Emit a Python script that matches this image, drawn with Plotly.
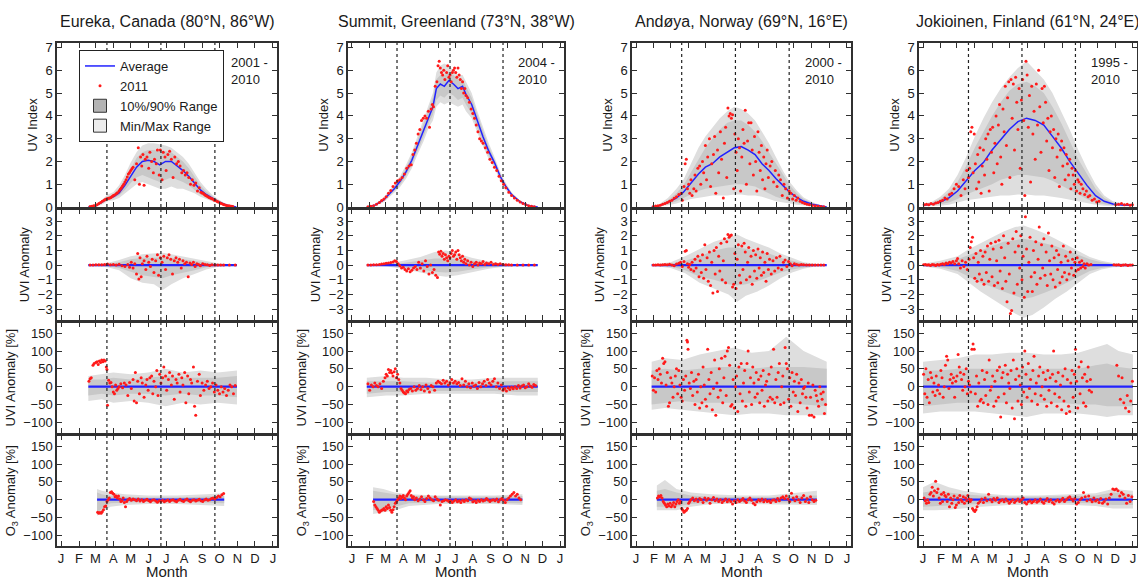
import plotly.graph_objects as go
from plotly.subplots import make_subplots

stations = ["Eureka, Canada (80°N, 86°W)", "Summit, Greenland (73°N, 38°W)",
            "Andøya, Norway (69°N, 16°E)", "Jokioinen, Finland (61°N, 24°E)"]
periods = ["2001 -<br>2010", "2004 -<br>2010", "2000 -<br>2010", "1995 -<br>2010"]
month_days = [0, 31, 59, 90, 120, 151, 181, 212, 243, 273, 304, 334, 365]
month_labels = ["J", "F", "M", "A", "M", "J", "J", "A", "S", "O", "N", "D", "J"]
equinox_days = [79, 172, 265]

# ---- Eureka ----
# UV index climatology: (day, average, 10%, 90%, min, max)
eur_uv = [(47, 0, 0, 0, 0, 0), (60, 0.05, 0.03, 0.08, 0.02, 0.1), (70, 0.2, 0.15, 0.25, 0.1, 0.3),
          (80, 0.38, 0.3, 0.45, 0.25, 0.55), (90, 0.45, 0.38, 0.55, 0.3, 0.65), (100, 0.62, 0.5, 0.8, 0.4, 0.95),
          (110, 0.95, 0.75, 1.2, 0.6, 1.4), (120, 1.35, 1.05, 1.7, 0.8, 1.95), (130, 1.75, 1.3, 2.15, 1.0, 2.4),
          (140, 2.0, 1.4, 2.4, 1.1, 2.7), (150, 2.05, 1.3, 2.5, 1.0, 2.8), (160, 2.0, 1.2, 2.5, 0.9, 2.8),
          (170, 1.85, 1.1, 2.45, 0.8, 2.75), (180, 2.0, 1.2, 2.45, 0.8, 2.7), (190, 2.0, 1.3, 2.4, 0.9, 2.6),
          (200, 1.8, 1.2, 2.2, 0.8, 2.4), (210, 1.6, 1.1, 2.0, 0.8, 2.2), (220, 1.35, 0.95, 1.7, 0.7, 1.9),
          (230, 1.05, 0.75, 1.35, 0.6, 1.5), (240, 0.75, 0.55, 0.95, 0.45, 1.1), (250, 0.55, 0.42, 0.68, 0.35, 0.8),
          (260, 0.38, 0.3, 0.47, 0.25, 0.55), (270, 0.25, 0.2, 0.3, 0.15, 0.35), (280, 0.13, 0.1, 0.16, 0.07, 0.2),
          (290, 0.05, 0.03, 0.07, 0.02, 0.09), (302, 0, 0, 0, 0, 0)]
# 2011 daily values: (day, value)
eur_uv11 = [(50, 0.02), (53, 0.03), (56, 0.05), (59, 0.07), (62, 0.1), (65, 0.15), (68, 0.2), (71, 0.25), (74, 0.3),
            (76, 0.33), (78, 0.35), (80, 0.37), (82, 0.38), (84, 0.4), (86, 0.42), (88, 0.46), (90, 0.5),
            (92, 0.53), (95, 0.58), (97, 0.63), (100, 0.7), (102, 0.78), (104, 0.85), (106, 0.92), (108, 1.0),
            (110, 1.1), (112, 1.2), (114, 1.32), (116, 1.45), (118, 1.52), (120, 1.6), (122, 1.68), (124, 1.75),
            (127, 1.2), (130, 1.9), (133, 2.6), (135, 1.0), (137, 2.2), (139, 1.8), (141, 2.3), (143, 0.95),
            (145, 2.1), (148, 2.2), (151, 1.7), (153, 2.4), (156, 2.0), (159, 1.5), (161, 2.1), (164, 1.9),
            (166, 2.5), (169, 1.4), (171, 2.5), (174, 1.2), (176, 2.4), (179, 2.2), (181, 1.6), (184, 2.3),
            (187, 2.45), (190, 2.1), (193, 1.3), (196, 2.2), (199, 1.9), (202, 2.0), (205, 1.8), (208, 1.5),
            (211, 1.6), (214, 1.4), (217, 1.5), (220, 1.3), (223, 1.0), (226, 1.2), (229, 0.95), (232, 1.05),
            (235, 0.7), (238, 0.85), (241, 0.65), (243, 0.62), (245, 0.6), (247, 0.55), (249, 0.5), (251, 0.48),
            (253, 0.45), (255, 0.42), (257, 0.4), (259, 0.37), (261, 0.35), (264, 0.3), (266, 0.28), (269, 0.24),
            (271, 0.22), (274, 0.18), (276, 0.15), (279, 0.12), (281, 0.1), (284, 0.08), (286, 0.06), (289, 0.05),
            (291, 0.04), (294, 0.03), (296, 0.02)]
# anomaly bands: (day, 10%, 90%, min, max)
eur_anom = [(47, -0.02, 0.02, -0.04, 0.04), (80, -0.08, 0.08, -0.15, 0.15), (100, -0.2, 0.2, -0.35, 0.35),
            (120, -0.45, 0.4, -0.9, 0.6), (140, -0.7, 0.5, -1.2, 0.75), (160, -0.8, 0.5, -1.3, 0.8),
            (175, -0.9, 0.55, -1.7, 0.85), (190, -0.7, 0.5, -1.3, 0.75), (210, -0.5, 0.4, -0.9, 0.6),
            (230, -0.35, 0.3, -0.6, 0.45), (250, -0.15, 0.15, -0.3, 0.25), (270, -0.06, 0.06, -0.12, 0.12),
            (303, -0.01, 0.01, -0.02, 0.02)]
eur_anom11 = [(50, 0.0), (55, 0.01), (60, 0.02), (65, 0.03), (70, 0.02), (75, 0.05), (80, 0.08), (85, 0.03),
              (90, 0.05), (95, 0.0), (100, 0.06), (105, -0.05), (110, -0.1), (115, 0.05), (118, -0.15), (121, 0.2),
              (124, -0.2), (127, 0.1), (130, -0.6), (132, 0.8), (134, -0.95), (136, 0.5), (138, -0.8), (140, 0.1),
              (143, 0.3), (146, -0.3), (148, 0.6), (151, 0.2), (154, -0.1), (157, 0.4), (160, -0.5), (163, 0.3),
              (166, 0.7), (168, -0.7), (171, 0.5), (174, 0.2), (177, 0.6), (180, -0.3), (183, 0.5), (186, 0.7),
              (189, 0.4), (192, -0.6), (195, 0.3), (198, 0.5), (201, 0.2), (204, 0.4), (207, -0.2), (210, 0.3),
              (213, 0.1), (216, 0.2), (219, -0.8), (222, 0.15), (225, 0.05), (228, 0.2), (231, -0.1), (234, 0.1),
              (237, 0.05), (240, -0.05), (244, 0.1), (248, 0.05), (252, 0.02), (256, -0.02), (260, 0.03),
              (265, 0.01), (270, 0.0), (275, 0.01), (280, 0.0), (290, 0.0), (300, 0.0)]
eur_pct = [(47, -25, 20, -40, 30), (70, -20, 20, -35, 35), (90, -25, 25, -45, 40), (120, -20, 20, -40, 35),
           (150, -20, 25, -45, 40), (180, -25, 30, -55, 50), (210, -20, 25, -45, 40), (240, -25, 25, -50, 45),
           (270, -25, 25, -45, 40), (303, -30, 30, -50, 45)]
eur_pct11 = [(48, 15), (50, 22), (52, 25), (55, 60), (57, 65), (60, 68), (62, 70), (64, 62), (66, 72), (68, 68),
             (70, 75), (72, 70), (74, 75), (76, 72), (78, 55), (79, 48), (80, -52), (82, 18), (84, 10), (86, 12),
             (88, 0), (90, -15), (92, -20), (94, 5), (96, -10), (98, -5), (100, 0), (103, 8), (106, -3), (109, 10),
             (112, 5), (115, -25), (118, 12), (121, -5), (124, 20), (126, -40), (128, 40), (130, -45), (132, 15),
             (135, -20), (138, 25), (140, 10), (143, -30), (146, 5), (148, 20), (150, -10), (153, 25), (156, 30),
             (158, -20), (160, 15), (163, 0), (165, 45), (167, -25), (170, 35), (172, 10), (175, 25), (177, 55),
             (180, 30), (182, -10), (185, 20), (187, 40), (190, 5), (192, 30), (195, -35), (198, 20), (200, 10),
             (203, 35), (205, -15), (208, 25), (210, 5), (213, 40), (215, -45), (218, 30), (220, -20), (223, 20),
             (225, 10), (228, 55), (230, -55), (232, -80), (235, 15), (238, 35), (240, -25), (243, 10), (246, -10),
             (249, 5), (252, 15), (255, -5), (258, 0), (261, 10), (264, -15), (267, 5), (270, -10), (273, -20),
             (276, 0), (279, -15), (282, -5), (285, -25), (288, -10), (291, 5), (294, 0), (297, -20), (300, 3)]
eur_o3 = [(62, -40, 20, -45, 30), (70, -25, 15, -35, 25), (85, -10, 10, -20, 20), (110, -8, 8, -15, 15),
          (150, -6, 6, -12, 12), (200, -6, 6, -12, 12), (250, -8, 8, -15, 15), (281, -10, 10, -18, 18)]
eur_o311 = [(63, -35), (65, -38), (67, -36), (69, -38), (71, -34), (73, -28), (75, -20), (77, -18), (79, -5),
            (81, 0), (83, 5), (85, 20), (87, 22), (89, 18), (91, 15), (93, 8), (95, 10), (97, 5), (99, 10),
            (101, 2), (103, -5), (105, -3), (107, 5), (109, -8), (111, -20), (113, -5), (115, 0), (118, 3),
            (121, -2), (124, 2), (127, 0), (130, -3), (133, 2), (136, -4), (139, 0), (142, -5), (145, -2),
            (148, 1), (151, -3), (154, -6), (157, -2), (160, 0), (163, -4), (166, -7), (169, -3), (172, -5),
            (175, -2), (178, -6), (181, -3), (184, -1), (187, -5), (190, -2), (193, 0), (196, -4), (199, -6),
            (202, -2), (205, 1), (208, -3), (211, -5), (214, -1), (217, 2), (220, -3), (223, -6), (226, -2),
            (229, 0), (232, -4), (235, -2), (238, 1), (241, -3), (244, -5), (247, -1), (250, 2), (253, -2),
            (256, 0), (259, 3), (262, 5), (265, 2), (268, 6), (271, 10), (274, 8), (277, 14), (280, 17)]

# ---- Summit ----
sum_uv = [(26, 0, 0, 0, 0, 0), (40, 0.08, 0.06, 0.1, 0.04, 0.12), (55, 0.3, 0.25, 0.35, 0.2, 0.4),
          (65, 0.55, 0.48, 0.62, 0.42, 0.7), (75, 0.82, 0.72, 0.92, 0.65, 1.0), (85, 1.15, 1.0, 1.28, 0.9, 1.38),
          (95, 1.55, 1.38, 1.72, 1.25, 1.85), (105, 2.05, 1.85, 2.25, 1.7, 2.4), (115, 2.7, 2.45, 2.95, 2.3, 3.1),
          (125, 3.35, 3.05, 3.6, 2.85, 3.8), (135, 4.0, 3.7, 4.3, 3.5, 4.5), (142, 4.4, 4.05, 4.8, 3.8, 5.0),
          (148, 5.2, 4.7, 5.6, 4.4, 5.9), (155, 5.4, 4.9, 5.8, 4.6, 6.2), (162, 5.3, 4.8, 5.8, 4.5, 6.3),
          (170, 5.55, 5.0, 5.9, 4.6, 6.2), (178, 5.4, 4.9, 5.8, 4.5, 6.0), (186, 5.2, 4.7, 5.6, 4.4, 5.8),
          (194, 5.3, 4.8, 5.6, 4.5, 5.8), (200, 4.95, 4.5, 5.3, 4.2, 5.5), (210, 4.5, 4.1, 4.8, 3.9, 5.0),
          (220, 3.75, 3.45, 4.05, 3.3, 4.2), (230, 3.07, 2.8, 3.3, 2.65, 3.45), (240, 2.45, 2.25, 2.65, 2.1, 2.8),
          (250, 1.95, 1.8, 2.1, 1.7, 2.2), (260, 1.35, 1.25, 1.45, 1.15, 1.55), (270, 0.9, 0.82, 0.98, 0.75, 1.05),
          (280, 0.55, 0.5, 0.6, 0.45, 0.65), (295, 0.23, 0.2, 0.26, 0.18, 0.28), (310, 0.06, 0.05, 0.07, 0.04, 0.08),
          (326, 0, 0, 0, 0, 0)]
sum_uv11 = [(28, 0.01), (33, 0.03), (38, 0.06), (43, 0.12), (48, 0.2), (52, 0.28), (56, 0.35), (60, 0.45),
            (64, 0.6), (68, 0.72), (72, 0.9), (76, 1.05), (80, 1.15), (84, 1.2), (88, 1.3), (92, 1.45), (96, 1.7),
            (100, 1.8), (104, 1.85), (107, 2.3), (110, 2.5), (113, 2.8), (116, 3.2), (119, 3.4), (122, 3.8),
            (125, 3.9), (128, 4.0), (131, 3.9), (134, 4.2), (136, 3.5), (139, 4.3), (141, 4.5), (143, 4.4),
            (146, 5.3), (149, 5.5), (151, 6.2), (153, 6.4), (155, 6.1), (157, 5.9), (159, 5.8), (161, 6.0),
            (163, 5.6), (166, 5.9), (168, 6.2), (170, 5.7), (172, 5.8), (174, 5.5), (176, 5.9), (178, 6.0),
            (180, 6.1), (182, 5.9), (184, 5.7), (186, 6.1), (188, 5.8), (190, 5.6), (192, 5.2), (194, 5.5),
            (196, 5.0), (198, 5.2), (200, 4.9), (203, 4.8), (206, 4.6), (209, 4.3), (212, 4.1), (215, 3.9),
            (218, 3.6), (221, 3.3), (224, 3.0), (227, 2.9), (230, 2.8), (234, 2.6), (238, 2.4), (242, 2.1),
            (246, 1.95), (250, 1.75), (254, 1.6), (258, 1.35), (262, 1.15), (266, 1.0), (270, 0.85), (275, 0.65),
            (280, 0.5), (285, 0.4), (290, 0.3), (295, 0.22), (300, 0.15), (305, 0.1), (310, 0.06), (315, 0.03),
            (320, 0.01)]
sum_anom = [(26, -0.01, 0.01, -0.02, 0.02), (60, -0.05, 0.05, -0.1, 0.1), (90, -0.15, 0.15, -0.25, 0.3),
            (120, -0.3, 0.3, -0.5, 0.55), (145, -0.45, 0.45, -0.7, 0.9), (165, -0.5, 0.45, -0.8, 1.0),
            (185, -0.45, 0.4, -0.7, 0.8), (210, -0.3, 0.3, -0.5, 0.5), (240, -0.15, 0.15, -0.25, 0.25),
            (270, -0.06, 0.06, -0.1, 0.1), (300, -0.02, 0.02, -0.04, 0.04), (326, -0.01, 0.01, -0.01, 0.01)]
sum_anom11 = [(28, 0.0), (33, 0.01), (38, 0.02), (43, 0.03), (48, 0.05), (52, 0.08), (56, 0.1), (60, 0.12),
              (64, 0.15), (68, 0.18), (72, 0.22), (75, 0.3), (78, 0.25), (81, 0.1), (84, -0.05), (87, -0.2),
              (90, -0.15), (93, -0.3), (96, -0.4), (99, -0.25), (102, -0.45), (105, -0.35), (108, -0.2),
              (111, -0.1), (114, -0.3), (117, 0.2), (120, -0.2), (123, 0.1), (126, -0.4), (129, 0.3), (132, -0.1),
              (135, -0.6), (138, 0.0), (141, -0.5), (144, -0.3), (147, -0.7), (150, -0.85), (152, 0.9),
              (154, 0.75), (156, 0.95), (158, 0.6), (160, 0.8), (162, 0.4), (164, 0.7), (166, 0.5), (168, 0.3),
              (170, 0.6), (172, 0.5), (174, 0.8), (176, 1.0), (178, 0.6), (180, 0.7), (182, 0.9), (184, 0.4),
              (186, 1.0), (188, 0.7), (190, 0.5), (192, 0.3), (194, 0.6), (196, 0.2), (198, 0.4), (200, 0.1),
              (203, 0.3), (206, 0.0), (209, 0.2), (212, -0.1), (215, 0.1), (218, 0.2), (221, 0.0), (224, 0.15),
              (227, 0.1), (230, 0.25), (233, 0.05), (236, 0.15), (240, 0.1), (244, 0.2), (248, 0.05), (252, 0.1),
              (256, 0.05), (260, 0.1), (265, 0.05), (270, 0.03), (275, 0.02), (280, 0.0), (290, 0.0), (300, 0.0),
              (310, 0.0), (320, 0.0)]
sum_pct = [(26, -20, 15, -30, 25), (60, -15, 15, -25, 30), (90, -15, 15, -25, 25), (130, -12, 12, -20, 25),
           (170, -12, 12, -20, 20), (210, -12, 12, -20, 20), (250, -12, 15, -20, 25), (290, -15, 15, -25, 25),
           (326, -15, 15, -25, 25)]
sum_pct11 = [(28, 8), (31, -10), (34, 5), (37, 0), (40, 10), (43, 3), (46, 0), (49, 8), (52, -5), (55, 15), (58, 25),
             (60, 35), (62, 30), (64, 48), (66, 40), (68, 45), (70, 38), (72, 30), (74, 42), (76, 50), (78, 25),
             (80, 35), (82, 20), (84, 10), (86, -5), (88, -10), (90, -15), (92, -18), (94, -20), (96, -12),
             (98, -15), (100, -8), (103, -5), (106, -12), (109, 0), (112, -10), (115, -5), (118, 3), (121, -8),
             (124, 0), (127, -12), (130, 5), (133, -5), (136, -15), (139, 3), (142, 0), (145, -10), (148, 10),
             (151, 15), (154, 12), (157, 8), (160, 18), (163, 10), (166, 15), (169, 5), (172, 12), (175, 20),
             (178, 10), (181, 15), (184, 8), (187, 12), (190, 3), (193, 22), (196, 5), (199, 15), (202, 0), (205, 8),
             (208, -3), (211, 10), (214, 2), (217, 5), (220, -5), (223, 12), (226, 0), (229, 8), (232, 15), (235, 3),
             (238, 20), (241, 10), (244, 5), (247, 15), (250, 22), (253, 0), (256, 10), (259, -5), (262, 5),
             (265, -10), (268, -5), (271, -12), (274, -3), (277, -8), (280, -2), (283, -6), (286, 0), (289, -5),
             (292, 3), (295, -4), (298, 2), (301, 5), (304, -3), (307, 0), (310, 8), (313, 2), (316, -2), (319, 6),
             (322, 3)]
sum_o3 = [(37, -30, 25, -40, 35), (55, -25, 20, -35, 30), (75, -20, 15, -30, 20), (100, -10, 10, -18, 15),
          (150, -8, 8, -12, 12), (200, -8, 8, -12, 12), (250, -8, 8, -12, 12), (299, -10, 10, -15, 15)]
sum_o311 = [(38, -5), (40, -15), (42, -20), (44, -25), (46, -30), (48, -35), (50, -32), (52, -30), (54, -28),
            (56, -25), (58, -30), (60, -20), (62, -25), (64, -15), (66, -22), (68, -30), (70, -35), (72, -28),
            (74, -20), (76, -10), (78, -5), (80, 0), (82, 5), (84, 10), (86, 3), (88, 8), (90, 12), (92, 5), (94, 0),
            (96, 10), (98, 15), (100, 20), (102, 25), (104, 12), (106, 5), (108, 8), (110, 0), (113, 5), (116, -3),
            (119, 2), (122, 8), (125, 0), (128, -5), (131, 3), (134, 10), (137, 5), (140, 0), (143, -3), (146, 8),
            (149, 2), (152, -2), (155, -15), (158, -5), (161, -3), (164, 0), (167, -2), (170, -5), (173, -3),
            (176, -8), (179, -4), (182, 0), (185, -6), (188, -3), (191, -8), (194, -2), (197, -5), (200, 0),
            (203, -3), (206, 5), (209, 2), (212, -6), (215, -3), (218, -8), (221, -2), (224, -5), (227, 0),
            (230, -4), (233, -2), (236, 3), (239, -1), (242, -5), (245, -2), (248, 0), (251, -3), (254, 2),
            (257, -6), (260, 0), (263, 3), (266, -2), (269, -8), (272, 0), (275, 5), (278, 10), (281, 15),
            (284, 20), (287, 10), (290, 15), (293, 5), (296, 0)]

# ---- Andøya ----
and_uv = [(27, 0, 0, 0, 0, 0), (40, 0.05, 0.03, 0.08, 0.02, 0.12), (55, 0.2, 0.12, 0.3, 0.08, 0.4),
          (70, 0.4, 0.25, 0.6, 0.15, 0.8), (82, 0.65, 0.4, 0.95, 0.25, 1.2), (95, 1.05, 0.55, 1.5, 0.35, 1.9),
          (108, 1.45, 0.7, 2.1, 0.4, 2.6), (120, 1.75, 0.8, 2.6, 0.45, 3.1), (132, 1.9, 0.85, 3.0, 0.5, 3.5),
          (145, 2.2, 0.9, 3.4, 0.5, 3.9), (158, 2.4, 0.95, 3.7, 0.5, 4.2), (170, 2.6, 1.0, 3.8, 0.55, 4.4),
          (182, 2.65, 1.0, 3.8, 0.55, 4.3), (194, 2.5, 0.95, 3.6, 0.5, 4.1), (206, 2.3, 0.9, 3.3, 0.5, 3.8),
          (218, 1.9, 0.75, 2.9, 0.45, 3.3), (230, 1.6, 0.6, 2.4, 0.35, 2.8), (242, 1.25, 0.45, 1.9, 0.25, 2.2),
          (254, 0.95, 0.35, 1.4, 0.2, 1.6), (266, 0.65, 0.25, 0.95, 0.15, 1.1), (278, 0.42, 0.18, 0.6, 0.1, 0.72),
          (290, 0.25, 0.1, 0.35, 0.06, 0.42), (305, 0.12, 0.05, 0.17, 0.03, 0.22), (318, 0.05, 0.02, 0.07, 0.01, 0.09),
          (330, 0, 0, 0, 0, 0)]
and_uv11 = [(30, 0.02), (34, 0.04), (38, 0.06), (42, 0.08), (46, 0.12), (50, 0.15), (54, 0.2), (58, 0.25), (62, 0.3),
            (66, 0.38), (70, 0.45), (74, 0.55), (78, 0.6), (80, 0.3), (83, 0.9), (85, 1.9), (87, 2.1), (89, 0.8),
            (91, 1.0), (93, 0.6), (95, 1.2), (97, 0.5), (100, 0.8), (102, 1.4), (104, 0.7), (107, 1.7), (110, 1.8),
            (112, 1.0), (115, 2.0), (117, 1.5), (120, 2.7), (122, 1.2), (124, 2.2), (127, 3.0), (129, 0.9),
            (131, 1.9), (134, 2.3), (136, 3.1), (138, 0.6), (141, 2.5), (143, 1.5), (146, 3.3), (148, 2.1),
            (151, 0.4), (153, 2.8), (155, 3.5), (157, 1.3), (159, 4.35), (161, 4.0), (163, 4.1), (165, 3.9),
            (167, 4.05), (169, 0.8), (171, 3.2), (173, 2.4), (175, 1.6), (177, 3.0), (179, 2.6), (181, 0.7),
            (183, 2.2), (185, 3.4), (187, 2.8), (189, 4.25), (191, 1.0), (193, 2.9), (195, 3.7), (197, 1.9),
            (199, 3.7), (201, 2.5), (203, 1.4), (205, 3.1), (207, 2.0), (209, 0.7), (211, 3.3), (213, 2.4),
            (215, 1.6), (217, 2.7), (219, 1.2), (221, 2.2), (223, 0.8), (225, 1.9), (227, 2.5), (229, 1.3),
            (232, 1.8), (235, 2.0), (238, 1.1), (241, 1.6), (244, 0.9), (247, 1.4), (250, 1.2), (253, 0.5),
            (256, 1.0), (259, 0.8), (262, 0.4), (265, 0.7), (268, 0.6), (271, 0.35), (274, 0.5), (277, 0.3),
            (280, 0.4), (284, 0.25), (288, 0.2), (292, 0.15), (296, 0.12), (300, 0.1), (305, 0.07), (310, 0.05),
            (315, 0.03), (320, 0.02), (325, 0.01)]
and_anom = [(27, -0.02, 0.02, -0.04, 0.04), (60, -0.1, 0.1, -0.2, 0.2), (85, -0.35, 0.3, -0.55, 0.6),
            (110, -0.8, 0.6, -1.2, 1.1), (135, -1.0, 1.0, -1.6, 1.6), (160, -1.3, 1.2, -2.0, 1.9),
            (175, -1.4, 1.2, -2.5, 2.1), (190, -1.3, 1.1, -2.1, 1.8), (210, -1.1, 1.0, -1.8, 1.5),
            (230, -0.8, 0.8, -1.4, 1.2), (250, -0.5, 0.5, -0.9, 0.8), (270, -0.3, 0.3, -0.5, 0.5),
            (290, -0.15, 0.12, -0.25, 0.2), (310, -0.05, 0.05, -0.1, 0.1), (330, -0.01, 0.01, -0.02, 0.02)]
and_anom11 = [(30, 0.0), (34, 0.01), (38, 0.02), (42, 0.0), (46, 0.03), (50, 0.05), (54, 0.02), (58, 0.06), (62, 0.0),
              (66, -0.05), (70, 0.08), (74, 0.12), (77, 0.2), (80, -0.1), (83, 0.25), (85, 0.95), (87, 1.0),
              (89, 0.1), (91, -0.15), (93, 0.05), (95, -0.3), (97, 0.2), (100, -0.4), (102, 0.4), (104, -0.2),
              (107, 0.6), (109, -0.8), (111, 0.3), (113, -0.5), (115, 0.7), (117, -0.9), (119, 1.4), (121, -0.3),
              (123, 0.5), (125, -1.1), (127, 0.9), (129, -1.4), (131, 0.2), (133, -1.9), (135, 1.0), (137, -0.6),
              (139, 1.2), (141, -1.8), (143, 0.6), (145, -0.4), (147, 1.5), (149, -1.0), (151, 0.3), (153, 1.8),
              (155, -1.2), (157, 1.6), (159, 2.1), (161, 1.9), (163, 2.0), (165, 2.05), (167, -1.5), (169, -1.3),
              (171, 0.8), (173, -1.6), (175, 0.4), (177, 1.4), (179, -0.7), (181, -1.2), (183, 1.3), (185, -0.3),
              (187, 1.5), (189, 0.9), (191, -1.0), (193, 0.2), (195, 1.2), (197, -0.8), (199, 0.6), (201, -1.3),
              (203, 1.0), (205, -0.4), (207, 0.7), (209, -0.9), (211, 1.1), (213, -0.2), (215, 0.5), (217, -0.7),
              (219, 0.9), (221, -0.5), (223, 0.2), (225, -1.1), (227, 0.8), (229, -0.3), (231, 0.4), (234, -0.6),
              (237, 0.3), (240, -0.4), (243, 0.5), (246, -0.2), (249, 0.6), (252, -0.3), (255, 0.2), (258, 0.35),
              (261, -0.1), (264, 0.25), (267, 0.1), (270, -0.05), (274, 0.1), (278, 0.05), (282, 0.0), (286, 0.04),
              (290, 0.02), (295, 0.0), (300, 0.01), (305, 0.0), (310, 0.01), (315, 0.0), (320, 0.0), (325, 0.0)]
and_pct = [(27, -50, 45, -65, 70), (50, -45, 50, -60, 80), (80, -40, 45, -65, 75), (110, -45, 50, -70, 90),
           (140, -45, 55, -75, 100), (170, -45, 55, -80, 110), (200, -45, 50, -75, 95), (230, -45, 55, -75, 100),
           (260, -45, 55, -80, 140), (290, -50, 55, -80, 100), (330, -55, 50, -80, 70)]
and_pct11 = [(28, 30), (30, -10), (32, 25), (34, -15), (36, 45), (38, 20), (40, 50), (42, 35), (44, 10), (46, 80),
             (48, 65), (50, 70), (52, 5), (54, 40), (56, -55), (58, -45), (60, 25), (62, 10), (64, -30), (66, 0),
             (68, 30), (70, 50), (72, -20), (74, 45), (76, 5), (78, -30), (80, -40), (82, 20), (84, -10), (86, 30),
             (88, 130), (89, 125), (90, 105), (92, 10), (94, -5), (96, 40), (98, -25), (100, 15), (102, -50),
             (104, 20), (106, -15), (108, 35), (110, -60), (112, 0), (114, -45), (116, 55), (118, 5), (120, -35),
             (122, -55), (124, 105), (126, 20), (128, -20), (130, 40), (132, -65), (134, -5), (136, 75), (138, -80),
             (140, 10), (142, -30), (144, 50), (146, -10), (148, 80), (150, -45), (152, 25), (154, 85), (156, -25),
             (158, 100), (160, 110), (162, 60), (164, -55), (166, -50), (168, 20), (170, -60), (172, 0), (174, 30),
             (176, -70), (178, 55), (180, -20), (182, 65), (184, -40), (186, 10), (188, 45), (190, -55), (192, 65),
             (194, 100), (196, -15), (198, 25), (200, -50), (202, 55), (204, 10), (206, -30), (208, 40), (210, -20),
             (212, 20), (214, -45), (216, 30), (218, -10), (220, 45), (222, -55), (224, 5), (226, 15), (228, -40),
             (230, 35), (232, -30), (234, 55), (236, -35), (238, 105), (240, -45), (242, 20), (244, -30), (246, 40),
             (248, 65), (250, -50), (252, 0), (254, 30), (256, -45), (258, 110), (260, 65), (262, 50), (264, -35),
             (266, 25), (268, -55), (270, 40), (272, -15), (274, 15), (276, -25), (278, 35), (280, -70), (282, 10),
             (284, -45), (286, 20), (288, -20), (290, -5), (292, 0), (294, -30), (296, -60), (298, 10), (300, -80),
             (302, -30), (304, -80), (306, 5), (308, -85), (310, -10), (312, -25), (314, -40), (316, -55), (318, 0),
             (320, -20), (322, -35), (324, -15), (326, -75), (328, -50)]
and_o3 = [(36, -20, 25, -30, 40), (50, -20, 30, -30, 55), (70, -20, 20, -30, 30), (95, -12, 12, -20, 20),
          (130, -8, 8, -12, 15), (180, -7, 7, -12, 12), (230, -7, 7, -12, 12), (270, -8, 10, -14, 18),
          (313, -10, 12, -15, 25)]
and_o311 = [(37, 5), (39, 10), (41, 8), (43, 12), (45, 5), (47, -5), (49, -10), (51, -15), (53, -20), (55, -12),
            (57, -18), (59, -10), (61, -20), (63, -15), (65, -8), (67, -20), (69, -12), (71, -5), (73, 0), (75, -10),
            (77, -5), (79, -25), (81, -30), (83, -35), (85, -32), (87, -30), (89, -25), (91, -10), (93, -5), (95, 0),
            (98, 5), (101, -3), (104, 2), (107, -5), (110, 3), (113, 0), (116, -8), (119, 5), (122, -2), (125, 3),
            (128, -10), (131, 0), (134, 6), (137, -3), (140, 2), (143, -5), (146, 0), (149, -8), (152, -3), (155, 2),
            (158, -6), (161, 0), (164, -5), (167, -12), (170, -3), (173, -8), (176, 0), (179, -5), (182, -2),
            (185, 3), (188, -4), (191, -8), (194, 0), (197, 5), (200, -2), (203, -10), (206, -14), (209, -6),
            (212, 0), (215, -4), (218, 2), (221, -6), (224, 0), (227, -5), (230, -3), (233, -8), (236, -2), (239, 0),
            (242, -5), (245, 3), (248, -3), (251, 5), (254, 8), (257, 3), (260, 10), (263, 2), (266, -5), (269, 18),
            (272, 5), (275, -3), (278, 8), (281, 0), (284, -8), (287, 5), (290, 12), (293, -5), (296, 3), (299, -8),
            (302, 8), (305, 0), (308, -5), (311, -2)]

# ---- Jokioinen ----
jok_uv = [(0, 0.08, 0.05, 0.12, 0.03, 0.15), (15, 0.12, 0.07, 0.18, 0.04, 0.22), (30, 0.22, 0.12, 0.35, 0.06, 0.45),
          (45, 0.4, 0.2, 0.65, 0.1, 0.8), (60, 0.7, 0.35, 1.1, 0.2, 1.4), (75, 1.15, 0.55, 1.8, 0.3, 2.2),
          (90, 1.6, 0.7, 2.6, 0.35, 3.1), (105, 1.95, 0.85, 3.3, 0.4, 3.9), (120, 2.5, 1.0, 4.0, 0.45, 4.6),
          (135, 2.95, 1.2, 4.6, 0.5, 5.2), (150, 3.4, 1.3, 5.1, 0.5, 5.7), (165, 3.75, 1.4, 5.4, 0.55, 6.1),
          (180, 3.9, 1.4, 5.5, 0.55, 6.4), (195, 3.8, 1.35, 5.3, 0.5, 6.0), (210, 3.6, 1.3, 5.0, 0.5, 5.6),
          (225, 3.1, 1.15, 4.4, 0.45, 5.0), (240, 2.6, 0.95, 3.7, 0.4, 4.2), (255, 2.0, 0.75, 2.9, 0.35, 3.4),
          (270, 1.45, 0.55, 2.1, 0.25, 2.5), (285, 0.95, 0.35, 1.45, 0.18, 1.7), (300, 0.5, 0.2, 0.8, 0.1, 1.0),
          (315, 0.25, 0.12, 0.4, 0.06, 0.5), (330, 0.13, 0.07, 0.2, 0.04, 0.25), (350, 0.08, 0.05, 0.12, 0.03, 0.15),
          (365, 0.08, 0.05, 0.12, 0.03, 0.15)]
jok_uv11 = [(2, 0.1), (6, 0.12), (10, 0.1), (14, 0.15), (18, 0.12), (22, 0.18), (26, 0.2), (30, 0.25), (34, 0.3),
            (38, 0.4), (42, 0.35), (46, 0.55), (50, 0.6), (54, 0.8), (58, 1.0), (62, 0.9), (66, 0.5), (70, 1.2),
            (73, 0.8), (76, 1.6), (79, 1.3), (81, 1.7), (83, 3.3), (85, 3.5), (87, 1.5), (89, 3.2), (91, 1.9),
            (93, 0.8), (95, 2.3), (97, 1.1), (99, 2.6), (101, 0.6), (103, 1.8), (105, 2.5), (107, 1.4), (109, 3.0),
            (111, 2.1), (113, 3.2), (115, 0.7), (117, 3.4), (119, 2.4), (121, 3.5), (123, 1.5), (125, 2.8),
            (127, 4.0), (129, 1.9), (131, 3.6), (133, 4.5), (135, 2.2), (137, 1.0), (139, 4.3), (141, 3.3),
            (143, 5.3), (145, 2.7), (147, 4.8), (149, 5.5), (151, 1.3), (153, 5.6), (155, 3.9), (157, 5.4),
            (159, 2.5), (161, 5.7), (163, 4.6), (165, 3.4), (167, 5.2), (169, 1.7), (171, 4.7), (173, 5.6),
            (175, 3.8), (177, 0.5), (179, 6.4), (181, 5.8), (183, 3.5), (185, 4.9), (187, 1.1), (189, 5.3),
            (191, 3.2), (193, 4.2), (195, 2.1), (197, 5.4), (199, 3.6), (201, 6.0), (203, 4.4), (205, 2.4),
            (207, 5.2), (209, 3.7), (211, 5.3), (213, 4.6), (215, 2.9), (217, 3.9), (219, 1.6), (221, 3.3),
            (223, 4.0), (225, 2.6), (227, 3.4), (229, 1.3), (231, 3.0), (233, 2.2), (235, 3.2), (237, 0.9),
            (239, 2.5), (241, 2.9), (243, 1.8), (245, 2.6), (247, 1.2), (249, 2.3), (251, 1.9), (253, 1.4),
            (255, 2.1), (257, 0.8), (259, 1.7), (261, 1.4), (263, 1.0), (265, 1.6), (267, 0.7), (269, 1.2),
            (271, 1.1), (273, 0.6), (275, 1.0), (278, 0.8), (281, 0.55), (284, 0.7), (287, 0.45), (290, 0.5),
            (294, 0.3), (298, 0.35), (302, 0.22), (306, 0.25), (335, 0.1), (340, 0.12), (345, 0.15), (350, 0.1),
            (355, 0.12), (360, 0.08), (364, 0.1)]
jok_anom = [(0, -0.05, 0.05, -0.1, 0.1), (30, -0.15, 0.15, -0.25, 0.3), (60, -0.4, 0.4, -0.6, 0.6),
            (80, -0.8, 0.7, -1.2, 1.1), (100, -1.2, 1.0, -1.8, 1.5), (120, -1.5, 1.3, -2.3, 1.9),
            (140, -1.8, 1.6, -2.8, 2.3), (160, -2.1, 1.7, -3.3, 2.6), (175, -2.3, 1.8, -3.6, 2.7),
            (190, -2.2, 1.7, -3.4, 2.5), (210, -1.9, 1.5, -2.9, 2.2), (230, -1.6, 1.3, -2.3, 1.8),
            (250, -1.2, 1.0, -1.8, 1.4), (270, -0.8, 0.7, -1.2, 1.0), (290, -0.4, 0.4, -0.6, 0.55),
            (310, -0.2, 0.2, -0.3, 0.3), (330, -0.08, 0.08, -0.15, 0.15), (365, -0.05, 0.05, -0.1, 0.1)]
jok_anom11 = [(1, 0.02), (4, 0.05), (7, 0.0), (10, 0.03), (13, -0.02), (16, 0.05), (19, 0.02), (22, -0.03), (25, 0.04),
              (28, 0.0), (31, 0.06), (34, 0.1), (37, 0.05), (40, 0.15), (43, 0.1), (46, 0.2), (49, 0.15), (52, 0.25),
              (55, 0.1), (58, 0.3), (60, 0.45), (62, 0.1), (65, -0.2), (68, 0.3), (71, -0.1), (74, 0.2), (77, -0.3),
              (80, 0.4), (82, 1.2), (84, 1.6), (86, 1.9), (88, 0.5), (90, -0.9), (92, 0.8), (94, -1.1), (96, 0.2),
              (98, -0.6), (100, 1.0), (102, -1.0), (104, 0.6), (106, -1.3), (108, 0.9), (110, -0.5), (112, 1.3),
              (114, -1.1), (116, 0.4), (118, 1.5), (120, -0.8), (122, 1.1), (124, -1.4), (126, 1.6), (128, 0.3),
              (130, -1.2), (132, 1.7), (134, -0.4), (136, 1.2), (138, -1.6), (140, 2.0), (142, 0.5), (144, -1.1),
              (146, -2.5), (148, 1.5), (150, -0.6), (152, -3.3), (154, -3.1), (156, 1.8), (158, -1.9), (160, 0.9),
              (162, 2.3), (164, -1.3), (166, 1.3), (168, -0.2), (170, 2.0), (172, -1.0), (174, 0.6), (176, -2.2),
              (178, 3.3), (180, 1.1), (182, -1.8), (184, 0.2), (186, 1.9), (188, -0.8), (190, -1.8), (192, 1.0),
              (194, -0.5), (196, 1.6), (198, -1.3), (200, 0.4), (202, 2.6), (204, -0.9), (206, 1.4), (208, -0.2),
              (210, 1.8), (212, -0.7), (214, 0.9), (216, -1.4), (218, 2.2), (220, 0.3), (222, -0.6), (224, 1.3),
              (226, -1.0), (228, 0.5), (230, -1.5), (232, 1.0), (234, -0.3), (236, 0.7), (238, -1.2), (240, 0.2),
              (242, -0.8), (244, 1.3), (246, -0.5), (248, 0.6), (250, -1.0), (252, 0.3), (254, -0.6), (256, 0.9),
              (258, -0.2), (260, 0.4), (262, -0.7), (264, 0.2), (266, -0.4), (268, 0.5), (270, -0.3), (272, 0.2),
              (274, -0.2), (276, 0.3), (278, -0.1), (280, 0.1), (282, -0.2), (285, 0.1), (288, 0.0), (292, 0.05),
              (332, 0.02), (336, 0.0), (340, 0.03), (344, -0.02), (348, 0.0), (352, 0.02), (356, -0.03), (360, 0.01),
              (364, 0.0)]
jok_pct = [(0, -55, 45, -75, 70), (30, -50, 45, -70, 75), (60, -45, 50, -70, 80), (90, -45, 50, -70, 90),
           (120, -45, 50, -75, 90), (150, -45, 50, -80, 95), (180, -45, 50, -85, 95), (210, -45, 50, -75, 90),
           (240, -45, 50, -75, 90), (270, -50, 50, -75, 95), (300, -50, 60, -80, 110), (320, -55, 65, -85, 120),
           (340, -55, 55, -80, 100), (365, -55, 50, -80, 90)]
jok_pct11 = [(1, 35), (3, -20), (5, 50), (7, -30), (9, 20), (11, -45), (13, 40), (15, 25), (17, -15), (19, 10),
             (21, -25), (23, 30), (25, -10), (27, 5), (29, -20), (31, 45), (33, 25), (35, -30), (37, 0), (39, 60),
             (41, 85), (43, 75), (45, -5), (47, 20), (49, 35), (51, 10), (53, 25), (55, -30), (57, 15), (59, 30),
             (61, 90), (63, 55), (65, 40), (67, 20), (69, -10), (71, 35), (73, 0), (75, 50), (77, -20), (79, 15),
             (81, 5), (83, -15), (85, 105), (87, 120), (89, 105), (91, -20), (93, 30), (95, -55), (97, 10), (99, -40),
             (101, -35), (103, 45), (105, -45), (107, 20), (109, -25), (111, 40), (113, -50), (115, 75), (117, -10),
             (119, 0), (121, 30), (123, -55), (125, 15), (127, -40), (129, 45), (131, -30), (133, 55), (135, -85),
             (137, 25), (139, 40), (141, -20), (143, 60), (145, -45), (147, 35), (149, 10), (151, -5), (153, 45),
             (155, -60), (157, 75), (159, -90), (161, 20), (163, 50), (165, -40), (167, 30), (169, 5), (171, -50),
             (173, 55), (175, -15), (177, 100), (179, 35), (181, -30), (183, 65), (185, -5), (187, 20), (189, -40),
             (191, 45), (193, 85), (195, -20), (197, 10), (199, -50), (201, 30), (203, 55), (205, -25), (207, 0),
             (209, 40), (211, -35), (213, 20), (215, -55), (217, 45), (219, -10), (221, 25), (223, -45), (225, 35),
             (227, 100), (229, -20), (231, 15), (233, -55), (235, 40), (237, -30), (239, 5), (241, -65), (243, 30),
             (245, -40), (247, 50), (249, -75), (251, 20), (253, -55), (255, -70), (257, 10), (259, 45), (261, -30),
             (263, 35), (265, 105), (267, 15), (269, -60), (271, 55), (273, -20), (275, 70), (277, 25), (279, -45),
             (281, 35), (283, -55), (285, 15), (287, 55), (289, -10), (291, 20), (293, -15), (337, 60), (340, 30),
             (343, -35), (346, 25), (349, -45), (352, -60), (355, -25), (358, -70), (361, -40), (364, 15)]
jok_o3 = [(0, -20, 20, -30, 35), (20, -20, 25, -30, 50), (45, -18, 20, -28, 35), (70, -15, 15, -25, 25),
          (100, -12, 12, -20, 18), (150, -8, 8, -15, 12), (200, -8, 8, -14, 12), (250, -8, 10, -14, 15),
          (300, -10, 12, -18, 18), (330, -15, 20, -25, 30), (365, -15, 15, -25, 25)]
jok_o311 = [(2, 5), (4, -3), (6, -10), (8, 0), (10, -8), (12, 15), (14, 20), (16, 35), (18, 10), (20, 25), (22, 52),
            (24, 20), (26, 30), (28, 5), (30, -10), (32, 15), (34, -5), (36, 20), (38, 12), (40, 8), (42, -5),
            (44, 15), (46, -20), (48, 5), (50, -10), (52, 0), (54, 10), (56, -22), (58, -15), (60, 5), (62, -8),
            (64, 12), (66, 0), (68, -5), (70, 8), (72, -10), (74, 5), (76, -3), (78, 12), (80, 2), (82, -5), (84, 0),
            (86, -25), (88, -30), (90, -33), (92, -28), (94, -20), (96, -10), (99, -5), (102, 2), (105, -8),
            (108, 5), (111, -3), (114, 15), (117, 0), (120, -6), (123, 3), (126, -2), (129, 5), (132, -8),
            (135, -3), (138, 0), (141, -6), (144, 2), (147, -4), (150, -10), (153, -5), (156, 0), (159, -8),
            (162, -3), (165, 2), (168, -5), (171, 0), (174, 5), (177, -8), (180, -12), (183, -6), (186, -3),
            (189, -9), (192, -5), (195, 0), (198, -7), (201, -4), (204, 2), (207, -6), (210, -10), (213, -3),
            (216, 3), (219, -5), (222, 0), (225, -8), (228, -12), (231, -4), (234, 0), (237, -6), (240, -2),
            (243, 4), (246, -5), (249, 0), (252, 5), (255, 8), (258, 2), (261, -4), (264, 3), (267, -12), (270, -8),
            (273, 0), (276, 5), (279, 20), (282, 8), (285, -3), (288, 10), (291, 0), (294, -6), (297, 5), (300, -4),
            (303, 0), (306, -8), (309, 3), (312, -10), (315, -5), (318, 2), (321, -12), (324, 5), (327, 15),
            (330, 30), (333, 28), (336, 30), (339, 25), (342, 10), (345, 20), (348, 15), (351, 5), (354, -10),
            (357, 12), (360, -5), (363, 8)]

uv_tables = [eur_uv, sum_uv, and_uv, jok_uv]
uv11_tables = [eur_uv11, sum_uv11, and_uv11, jok_uv11]
anomaly_rows = [
    ([eur_anom, sum_anom, and_anom, jok_anom], [eur_anom11, sum_anom11, and_anom11, jok_anom11]),
    ([eur_pct, sum_pct, and_pct, jok_pct], [eur_pct11, sum_pct11, and_pct11, jok_pct11]),
    ([eur_o3, sum_o3, and_o3, jok_o3], [eur_o311, sum_o311, and_o311, jok_o311]),
]

W, H = 1138, 579
col_px = [(57, 277), (348, 564), (632, 851), (919, 1137)]
row_px = [(43, 207), (209.5, 320), (322.5, 433), (435.5, 546)]
y_titles = ["UV Index", "UVI Anomaly", "UVI Anomaly [%]", "O<sub>3</sub> Anomaly [%]"]
y_ranges = [[0, 7.2], [-3.75, 3.8], [-130, 180], [-130, 180]]
y_ticks = [list(range(0, 8)), list(range(-3, 4)), [-100, -50, 0, 50, 100, 150], [-100, -50, 0, 50, 100, 150]]

MINMAX = "#dedede"
P1090 = "#c8c8c8"
BLUE = "#2222ff"
RED = "#ff1a1a"
FONT = "Liberation Sans, Arial, sans-serif"

fig = make_subplots(rows=4, cols=4)


def col(tbl, i):
    return [r[i] for r in tbl]


def add_band(days, lo, hi, color, r, c):
    fig.add_trace(go.Scatter(x=days + days[::-1], y=hi + lo[::-1], fill="toself", fillcolor=color,
                             mode="lines", line=dict(width=0), showlegend=False, hoverinfo="skip"),
                  row=r, col=c)


for c in range(4):
    first = c == 0
    # row 1: UV index
    t = uv_tables[c]
    d = col(t, 0)
    add_band(d, col(t, 4), col(t, 5), MINMAX, 1, c + 1)
    add_band(d, col(t, 2), col(t, 3), P1090, 1, c + 1)
    fig.add_trace(go.Scatter(x=d, y=col(t, 1), mode="lines", line=dict(color=BLUE, width=1.5),
                             name="Average", showlegend=first, legendrank=1), row=1, col=c + 1)
    p = uv11_tables[c]
    fig.add_trace(go.Scatter(x=col(p, 0), y=col(p, 1), mode="markers",
                             marker=dict(color=RED, size=3), name="2011", showlegend=first, legendrank=2),
                  row=1, col=c + 1)
    # rows 2-4: anomalies
    for k, (bands, pts) in enumerate(anomaly_rows):
        r = k + 2
        t = bands[c]
        d = col(t, 0)
        add_band(d, col(t, 3), col(t, 4), MINMAX, r, c + 1)
        add_band(d, col(t, 1), col(t, 2), P1090, r, c + 1)
        fig.add_trace(go.Scatter(x=[d[0], d[-1]], y=[0, 0], mode="lines", line=dict(color=BLUE, width=2.2),
                                 showlegend=False, hoverinfo="skip"), row=r, col=c + 1)
        p = pts[c]
        fig.add_trace(go.Scatter(x=col(p, 0), y=col(p, 1), mode="markers",
                                 marker=dict(color=RED, size=3), showlegend=False), row=r, col=c + 1)

# legend-only entries for the two ranges, drawn as outlined squares
for name, color, rank in [("10%/90% Range", "#b4b4b4", 3), ("Min/Max Range", "#ececec", 4)]:
    fig.add_trace(go.Scatter(x=[None], y=[None], mode="markers", name=name, legendrank=rank,
                             marker=dict(symbol="square", size=13, color=color,
                                         line=dict(color="#333333", width=1))), row=1, col=1)

annotations = []
shapes = []
for r in range(4):
    for c in range(4):
        n = r * 4 + c + 1
        sfx = "" if n == 1 else str(n)
        x0, x1 = col_px[c]
        y0, y1 = row_px[r]
        axis_common = dict(showline=True, mirror="allticks", linecolor="#303030", linewidth=1.5,
                           ticks="inside", ticklen=5, tickwidth=1.2, tickcolor="#303030",
                           showgrid=False, zeroline=False, automargin=False,
                           tickfont=dict(size=13, color="#1a1a1a", family=FONT))
        fig.layout["xaxis" + sfx].update(domain=[x0 / W, x1 / W], range=[-7, 372],
                                         tickvals=month_days, ticktext=month_labels,
                                         showticklabels=(r == 3), **axis_common)
        fig.layout["yaxis" + sfx].update(domain=[1 - y1 / H, 1 - y0 / H], range=y_ranges[r],
                                         tickvals=y_ticks[r],
                                         title=dict(text=y_titles[r], standoff=5,
                                                    font=dict(size=13, color="#1a1a1a", family=FONT)),
                                         **axis_common)
        xref = "x" + sfx
        yref = "y" + sfx + " domain"
        for dday in equinox_days:
            shapes.append(dict(type="line", xref=xref, yref=yref, x0=dday, x1=dday, y0=0, y1=1,
                               line=dict(color="#222222", width=1.2, dash="dot"), layer="above"))

for c in range(4):
    x0, x1 = col_px[c]
    annotations.append(dict(text=stations[c], x=(x0 + x1) / 2 / W, y=1 - 22 / H, xref="paper", yref="paper",
                            showarrow=False, xanchor="center", yanchor="middle",
                            font=dict(size=16, color="#1a1a1a", family=FONT)))
    annotations.append(dict(text=periods[c], x=(x1 - 48) / W, y=1 - 53 / H, xref="paper", yref="paper",
                            showarrow=False, xanchor="left", yanchor="top", align="left",
                            font=dict(size=13, color="#1a1a1a", family=FONT)))
    annotations.append(dict(text="Month", x=(x0 + x1) / 2 / W, y=1 - 571 / H, xref="paper", yref="paper",
                            showarrow=False, xanchor="center", yanchor="middle",
                            font=dict(size=15, color="#1a1a1a", family=FONT)))

fig.update_layout(
    width=W, height=H, margin=dict(l=0, r=0, t=0, b=0),
    paper_bgcolor="white", plot_bgcolor="white",
    font=dict(family=FONT, color="#1a1a1a"),
    annotations=annotations, shapes=shapes,
    legend=dict(x=79 / W, y=1 - 50 / H, xanchor="left", yanchor="top", bgcolor="white",
                bordercolor="#222222", borderwidth=1, font=dict(size=13, family=FONT),
                traceorder="normal", itemwidth=30, tracegroupgap=0),
)

# the page body has a default margin; drop it so the figure sits at the window origin
fig.write_html("out.html", config={"displayModeBar": False},
               post_script="document.body.style.margin='0';")
